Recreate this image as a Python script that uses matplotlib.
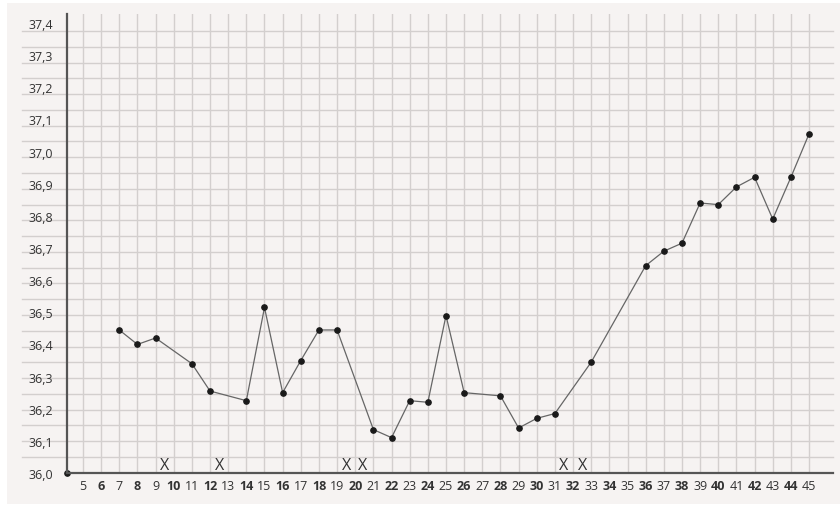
import matplotlib
matplotlib.use("Agg")
import matplotlib.pyplot as plt
import numpy as np
from matplotlib.patches import Rectangle

# measured days and temperatures
days = [7, 8, 9, 11, 12, 14, 15, 16, 17, 18, 19, 21, 22, 23, 24, 25, 26,
        28, 29, 30, 31, 33, 36, 37, 38, 39, 40, 41, 42, 43, 44, 45]
temps = [36.445, 36.40, 36.42, 36.34, 36.255, 36.225, 36.515, 36.25, 36.35,
         36.445, 36.445, 36.135, 36.11, 36.225, 36.22, 36.49, 36.25,
         36.24, 36.14, 36.17, 36.185, 36.345, 36.645, 36.69, 36.715, 36.84,
         36.835, 36.89, 36.92, 36.79, 36.92, 37.055]

x_days = list(range(5, 46))
y_ticks = [36.0, 36.1, 36.2, 36.3, 36.4, 36.5, 36.6, 36.7,
           36.8, 36.9, 37.0, 37.1, 37.2, 37.3, 37.4]
cross_days = [9.5, 12.5, 19.5, 20.4, 31.5, 32.5]

plt.rcParams['font.family'] = ['Open Sans', 'DejaVu Sans']

W, H = 840, 506
fig = plt.figure(figsize=(W / 100, H / 100), dpi=100)
fig.patch.set_facecolor('white')
fig.add_artist(Rectangle((7 / W, 1 / H), 833 / W, 501 / H,
                         transform=fig.transFigure, facecolor='#f6f3f2',
                         edgecolor='none', zorder=-10))

ax = fig.add_axes((67 / W, (H - 474) / H, (833 - 67) / W, (474 - 15) / H))
ax.set_facecolor('none')
ax.set_xlim(4.12, 46.32)
ax.set_ylim(36.0, 37.428)

grid_col = '#d3cfce'
# horizontal grid, runs out under the tick labels
for yv in np.linspace(36.05, 37.375, 28):
    ax.axhline(yv, xmin=-0.059, xmax=1, color=grid_col, lw=1.0,
               clip_on=False, zorder=1)
for d in x_days:
    ax.axvline(d, color=grid_col, lw=1.0, zorder=1)

ax.plot(days, temps, color='#666666', lw=0.9, zorder=3)
ax.plot(days, temps, 'o', color='#1a1a1a', ms=3.8, zorder=4)
ax.plot([4.12], [36.0], 'o', color='#1a1a1a', ms=3.8, zorder=5, clip_on=False)

for d in cross_days:
    ax.text(d, 36.0 + 8 / 321.4, 'X', ha='center', va='center',
            fontsize=11.5, color='#333333', zorder=4)

for s in ['top', 'right']:
    ax.spines[s].set_visible(False)
for s in ['left', 'bottom']:
    ax.spines[s].set_color('#555555')
    ax.spines[s].set_linewidth(1.6)
    ax.spines[s].set_zorder(5)

ax.set_xticks(x_days)
ax.set_xticklabels([str(d) for d in x_days], fontsize=9, color='#333333')
for lab, d in zip(ax.get_xticklabels(), x_days):
    if d % 2 == 0:
        lab.set_fontweight('bold')
ax.set_yticks(y_ticks)
ax.set_yticklabels([f"{v:.1f}".replace('.', ',') for v in y_ticks],
                   fontsize=9, color='#333333')
ax.tick_params(axis='both', length=0)
ax.tick_params(axis='x', pad=4)
ax.tick_params(axis='y', pad=10)

fig.savefig('out.png', dpi=100)
